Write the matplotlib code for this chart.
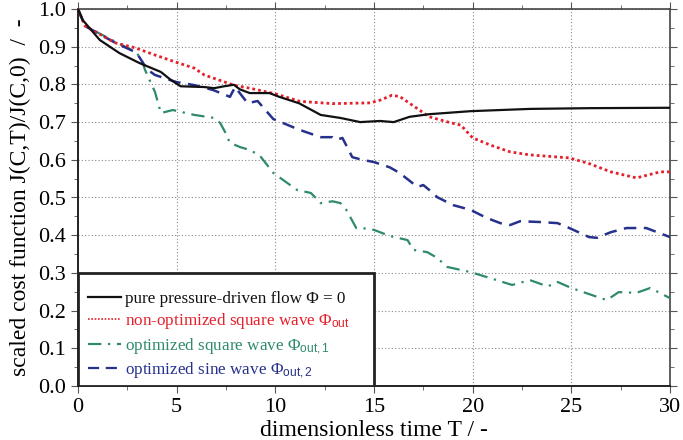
import matplotlib
matplotlib.use("Agg")
import matplotlib.pyplot as plt
from matplotlib.patches import Rectangle
from matplotlib.lines import Line2D
from matplotlib.ticker import MultipleLocator

plt.rcParams['font.family'] = ['Liberation Serif', 'DejaVu Serif']
plt.rcParams['mathtext.fontset'] = 'custom'
plt.rcParams['mathtext.rm'] = 'Liberation Serif'
plt.rcParams['mathtext.sf'] = 'Liberation Sans'
plt.rcParams['mathtext.it'] = 'Liberation Serif:italic'

T_black = [0, 0.25, 1.1, 2.1, 3.1, 4.2, 4.7, 5.2, 6.4, 6.9, 7.4, 7.9, 8.2, 8.7, 9.7, 10.2,
           11.2, 12.3, 13.3, 14.3, 15.3, 16.0, 16.8, 17.8, 19.9, 22.9, 26, 30]
J_black = [1.0, 0.97, 0.918, 0.883, 0.857, 0.833, 0.812, 0.795, 0.793, 0.790, 0.795, 0.799,
           0.787, 0.777, 0.777, 0.767, 0.75, 0.719, 0.711, 0.70, 0.703, 0.70, 0.714, 0.721,
           0.729, 0.735, 0.737, 0.738]

T_red = [0, 0.35, 1.9, 2.9, 3.9, 4.9, 5.9, 6.4, 7.45, 7.96, 8.7, 10.0, 11.25, 12.9, 14.8,
         15.3, 15.9, 16.3, 16.8, 17.8, 18.9, 19.4, 20.0, 20.9, 21.9, 22.9, 24.9, 25.9, 27.0,
         28.3, 29.5, 30]
J_red = [1.0, 0.955, 0.91, 0.897, 0.878, 0.86, 0.843, 0.825, 0.806, 0.797, 0.79, 0.775,
         0.755, 0.749, 0.751, 0.758, 0.771, 0.768, 0.75, 0.714, 0.698, 0.692, 0.658, 0.639,
         0.621, 0.613, 0.605, 0.59, 0.568, 0.552, 0.568, 0.568]

T_green = [0, 0.35, 1.9, 2.9, 3.2, 3.4, 3.9, 4.2, 4.8, 5.9, 6.9, 7.2, 7.45, 7.7, 8.2, 8.7,
           9.2, 9.9, 11.1, 11.8, 12.3, 12.9, 13.3, 13.6, 14.1, 14.4, 15.0, 15.8, 16.7, 17.0,
           17.7, 18.2, 18.7, 19.9, 20.9, 22.0, 22.9, 23.8, 24.3, 25.0, 26.5, 26.8, 27.4,
           28.3, 29.0, 30]
J_green = [1.0, 0.955, 0.913, 0.886, 0.870, 0.838, 0.78, 0.724, 0.732, 0.719, 0.711, 0.698,
           0.674, 0.645, 0.634, 0.626, 0.612, 0.565, 0.52, 0.512, 0.485, 0.490, 0.485, 0.467,
           0.419, 0.419, 0.414, 0.398, 0.387, 0.361, 0.355, 0.34, 0.316, 0.302, 0.286, 0.268,
           0.281, 0.264, 0.276, 0.26, 0.233, 0.228, 0.249, 0.247, 0.26, 0.233]

T_blue = [0, 0.35, 1.9, 2.9, 3.1, 3.5, 3.9, 5.0, 5.9, 6.85, 7.7, 7.96, 8.6, 9.1, 9.9, 11.2,
          12.3, 12.9, 13.1, 13.4, 13.9, 14.4, 15.0, 15.8, 16.3, 17.2, 17.5, 17.8, 18.2, 19.0,
          19.9, 20.7, 21.4, 21.9, 22.4, 23.4, 24.3, 24.9, 25.9, 26.3, 27.0, 27.8, 28.8, 30]
J_blue = [1.0, 0.955, 0.91, 0.886, 0.873, 0.84, 0.825, 0.806, 0.798, 0.785, 0.767, 0.793,
          0.75, 0.756, 0.708, 0.68, 0.66, 0.66, 0.653, 0.658, 0.607, 0.60, 0.594, 0.58, 0.565,
          0.528, 0.533, 0.52, 0.501, 0.48, 0.467, 0.446, 0.432, 0.427, 0.437, 0.435, 0.432,
          0.419, 0.395, 0.393, 0.408, 0.419, 0.419, 0.395]

labels = ['pure pressure-driven flow Φ = 0',
          r'non-optimized square wave Φ$_{\mathsf{out}}$',
          r'optimized square wave Φ$_{\mathsf{out,1}}$',
          r'optimized sine wave Φ$_{\mathsf{out,2}}$']

c_black = '#111111'
c_red = '#e5202a'
c_green = '#2f8a6c'
c_blue = '#26318c'

fig = plt.figure(figsize=(6.83, 4.40), dpi=100)
ax = fig.add_axes([78/683, 1-386/440, (670-78)/683, (386-9)/440])

ax.plot(T_black, J_black, color=c_black, lw=1.6, ls='-', zorder=5)
ax.plot(T_red, J_red, color=c_red, lw=2.0, ls=(0, (1, 1.1)), zorder=4)
ax.plot(T_green, J_green, color=c_green, lw=1.6, ls=(0, (6, 3, 1, 3)), zorder=3)
ax.plot(T_blue, J_blue, color=c_blue, lw=1.8, ls=(0, (5, 3)), zorder=3)

ax.set_xlim(0, 30)
ax.set_ylim(0, 1.0)
ax.xaxis.set_major_locator(MultipleLocator(5))
ax.xaxis.set_minor_locator(MultipleLocator(2.5))
ax.yaxis.set_minor_locator(MultipleLocator(0.05))
ax.set_yticks([i/10 for i in range(11)])
ax.set_yticklabels([f'{i/10:.1f}' for i in range(11)])
ax.tick_params(which='both', direction='out', top=True, right=True, labeltop=False,
               labelright=False, labelsize=16, colors='#555555', labelcolor='black')
ax.tick_params(which='major', length=5, width=0.8)
ax.tick_params(which='minor', length=3, width=0.6)
ax.grid(True, which='major', color='#8a8a8a', ls=(0, (1, 2)), lw=0.8)
for s in ['left', 'bottom']:
    ax.spines[s].set_linewidth(1.4)
    ax.spines[s].set_color('#222222')
for s in ['top', 'right']:
    ax.spines[s].set_linewidth(1.2)
    ax.spines[s].set_color('#444444')

ax.set_xlabel('dimensionless time T / -', fontsize=17, labelpad=2)
ax.set_ylabel('scaled cost function J(C,T)/J(C,0)  /  -', fontsize=17, labelpad=5)

# legend box
rect = Rectangle((0, 0), 0.5, 0.3, transform=ax.transAxes, facecolor='white',
                 edgecolor='#222222', lw=2.0, zorder=10)
ax.add_patch(rect)
handles = [Line2D([], [], color=c_black, lw=1.6, ls='-'),
           Line2D([], [], color=c_red, lw=1.2, ls=(0, (1, 1))),
           Line2D([], [], color=c_green, lw=1.6, ls=(0, (6, 3, 1, 3))),
           Line2D([], [], color=c_blue, lw=1.6, ls=(0, (5, 3)))]
leg = ax.legend(handles, labels, loc='upper left', bbox_to_anchor=(0.0, 0.0, 0.5, 0.279),
                frameon=False, fontsize=12.3, handlelength=1.9, handletextpad=0.25,
                labelspacing=0.25, borderaxespad=0.0, borderpad=0.6)
leg.set_zorder(11)
for txt, col in zip(leg.get_texts(), [c_black, c_red, c_green, c_blue]):
    txt.set_color(col)

fig.savefig('out.png', dpi=100)
